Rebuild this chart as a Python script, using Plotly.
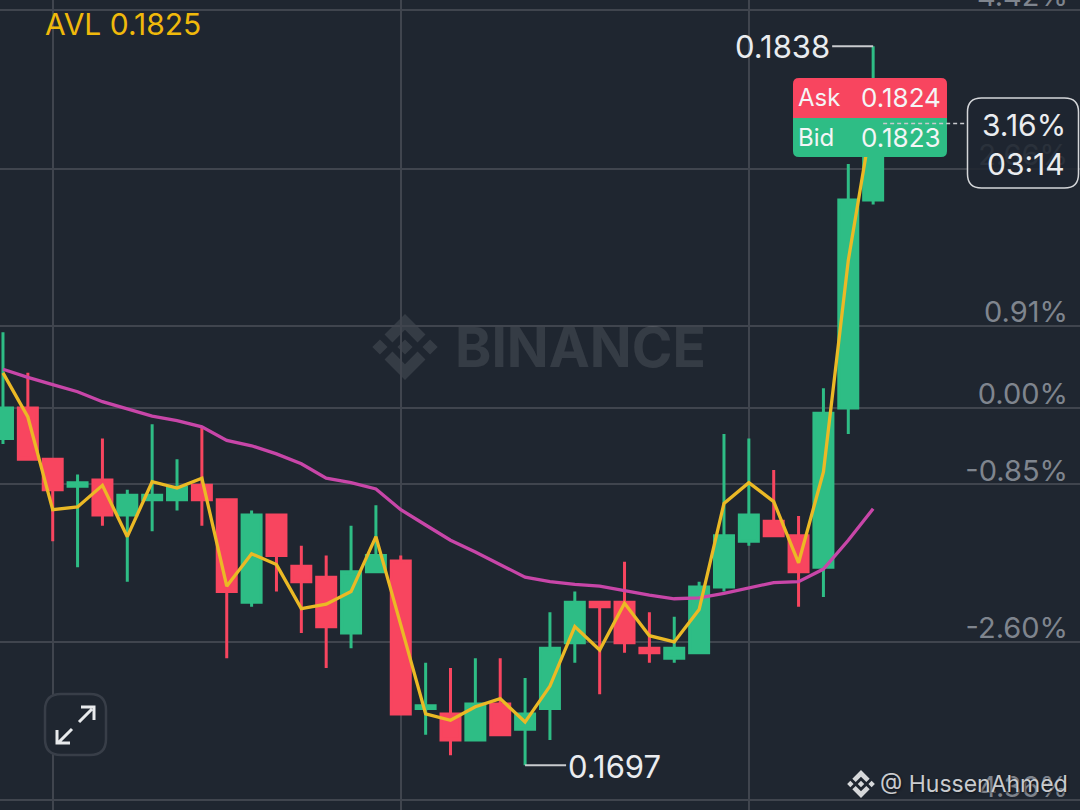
import plotly.graph_objects as go

# percent change values, one entry per candle
opens = [-0.34, 0.00, -0.57, -0.87, -0.80, -1.19, -1.02, -1.02, -0.86, -1.02, -2.16, -1.19,
         -1.76, -1.88, -2.50, -1.82, -1.70, -3.34, -3.40, -3.69, -3.29, -3.57, -3.34, -2.61,
         -2.16, -2.16, -2.67, -2.78, -2.72, -1.99, -1.48, -1.26, -1.42, -1.77, 0.00, 2.31]
highs = [0.84, 0.39, -0.57, -0.74, -0.34, -0.91, -0.18, -0.57, -0.21, -1.02, -1.14, -1.19,
         -1.53, -1.64, -1.31, -1.08, -1.64, -2.83, -2.89, -2.78, -2.78, -3.00, -2.27, -2.04,
         -2.16, -1.71, -2.27, -2.32, -1.93, -0.29, -0.34, -0.69, -1.20, 0.22, 2.71, 4.02]
lows = [-0.40, -0.57, -1.48, -1.77, -1.31, -1.93, -1.37, -1.14, -1.31, -2.78, -2.21, -2.04,
        -2.50, -2.89, -2.67, -1.82, -3.40, -3.63, -3.86, -3.69, -3.63, -3.97, -3.69, -2.83,
        -3.18, -2.72, -2.83, -2.83, -2.72, -2.04, -1.53, -1.42, -2.21, -2.10, -0.29, 2.26]
closes = [0.00, -0.57, -0.91, -0.83, -1.19, -0.97, -0.97, -0.88, -1.02, -2.04, -1.19, -1.64,
          -1.93, -2.43, -1.82, -1.64, -3.40, -3.31, -3.69, -3.29, -3.63, -3.40, -2.67, -2.16,
          -2.21, -2.61, -2.72, -2.67, -1.99, -1.42, -1.19, -1.42, -1.82, -0.06, 2.31, 3.16]
avl = [0.39, -0.10, -1.13, -1.10, -0.86, -1.43, -0.82, -0.89, -0.78, -1.98, -1.62, -1.74,
       -2.23, -2.18, -2.04, -1.43, -2.41, -3.40, -3.47, -3.32, -3.23, -3.49, -3.09, -2.43,
       -2.69, -2.17, -2.53, -2.60, -2.24, -1.06, -0.83, -1.04, -1.72, -0.71, 1.64, 3.28]
ma = [0.43, 0.34, 0.26, 0.18, 0.07, -0.01, -0.09, -0.14, -0.21, -0.36, -0.42, -0.51,
      -0.62, -0.78, -0.83, -0.90, -1.13, -1.30, -1.47, -1.60, -1.74, -1.88, -1.93, -1.96,
      -1.98, -2.03, -2.08, -2.12, -2.11, -2.06, -2.00, -1.94, -1.93, -1.79, -1.47, -1.12]
tick_vals = [4.42, 2.66, 0.91, 0.00, -0.85, -2.60, -4.36]
tick_text = ["4.42%", "2.66%", "0.91%", "0.00%", "-0.85%", "-2.60%", "-4.36%"]
x_grid = [2, 16, 30]

W, H = 1080, 810
BG = "#1f2630"
GREEN = "#2ebd85"
RED = "#f8455f"
FONT = "Inter"
x = list(range(len(opens)))


def px(a, b):
    return f"{a / W:.5f} {1 - b / H:.5f}"


def rounded(x0, y0, x1, y1, r, top=True, bottom=True):
    rt = r if top else 0
    rb = r if bottom else 0
    return (f"M {px(x0 + rt, y0)} L {px(x1 - rt, y0)} Q {px(x1, y0)} {px(x1, y0 + rt)} "
            f"L {px(x1, y1 - rb)} Q {px(x1, y1)} {px(x1 - rb, y1)} "
            f"L {px(x0 + rb, y1)} Q {px(x0, y1)} {px(x0, y1 - rb)} "
            f"L {px(x0, y0 + rt)} Q {px(x0, y0)} {px(x0 + rt, y0)} Z")


def logo(cx, cy, s):
    # binance diamond mark
    def poly(pts):
        return "M " + " L ".join(px(cx + a * s, cy + b * s) for a, b in pts) + " Z"
    def dia(a, b, r):
        return poly([(a, b - r), (a + r, b), (a, b + r), (a - r, b)])
    top = [(0, -1), (0.62, -0.38), (0.38, -0.14), (0, -0.52), (-0.38, -0.14), (-0.62, -0.38)]
    bot = [(a, -b) for a, b in top]
    return " ".join([poly(top), poly(bot), dia(0, 0, 0.23), dia(-0.76, 0, 0.23), dia(0.76, 0, 0.23)])


fig = go.Figure()
fig.add_trace(go.Candlestick(
    x=x, open=opens, high=highs, low=lows, close=closes,
    whiskerwidth=0,
    increasing=dict(line=dict(color=GREEN, width=3), fillcolor=GREEN),
    decreasing=dict(line=dict(color=RED, width=3), fillcolor=RED),
))
fig.add_trace(go.Scatter(x=x, y=ma, mode="lines", line=dict(color="#c846a8", width=3.3)))
fig.add_trace(go.Scatter(x=x, y=avl, mode="lines", line=dict(color="#ebb925", width=3.3)))

shapes = [
    # watermark
    dict(type="path", xref="paper", yref="paper", path=logo(405, 347, 33),
         fillcolor="rgba(255,255,255,0.1)", line_width=0, layer="below"),
    # high / low leader lines
    dict(type="line", xsizemode="pixel", xanchor=35, yref="y", x0=-41, x1=0,
         y0=highs[35], y1=highs[35], line=dict(color="#c9cbce", width=2)),
    dict(type="line", xsizemode="pixel", xanchor=21, yref="y", x0=0, x1=41,
         y0=lows[21], y1=lows[21], line=dict(color="#c9cbce", width=2)),
    # ask / bid box
    dict(type="path", xref="paper", yref="paper", path=rounded(793, 78, 947, 118, 6, bottom=False),
         fillcolor=RED, line_width=0),
    dict(type="path", xref="paper", yref="paper", path=rounded(793, 118, 947, 157, 6, top=False),
         fillcolor=GREEN, line_width=0),
    # last price line and countdown box
    dict(type="line", xsizemode="pixel", xanchor=35, yref="y", x0=10, x1=94,
         y0=closes[35], y1=closes[35], line=dict(color="#c9cbce", width=1.5, dash="4px,3px")),
    dict(type="path", xref="paper", yref="paper", path=rounded(967.5, 98, 1078.5, 188, 14),
         fillcolor="rgba(31,38,48,0.88)", line=dict(color="#d4d6d9", width=1.5)),
    # expand button
    dict(type="path", xref="paper", yref="paper", path=rounded(45, 694, 106, 755, 16),
         fillcolor=BG, line=dict(color="#383e48", width=2.5)),
    dict(type="path", xref="paper", yref="paper",
         path=f"M {px(79, 722)} L {px(92, 709)} M {px(81, 707)} L {px(94, 707)} L {px(94, 720)}",
         line=dict(color="#e8eaec", width=3)),
    dict(type="path", xref="paper", yref="paper",
         path=f"M {px(72, 729)} L {px(59, 742)} M {px(57, 730)} L {px(57, 743)} L {px(70, 743)}",
         line=dict(color="#e8eaec", width=3)),
    # author mark
    dict(type="path", xref="paper", yref="paper", path=logo(861, 784, 14),
         fillcolor="#d6d8da", line_width=0),
]


def label(text, xp, yp, size=30, color="#eaecef", anchor="center", **kw):
    return dict(text=text, xref="paper", yref="paper", x=xp / W, y=1 - yp / H,
                xanchor=anchor, yanchor="middle", showarrow=False,
                font=dict(family=FONT, size=size, color=color, **kw))


annotations = [
    label("AVL 0.1825", 43, 24, size=30, color="#f0b90b", anchor="left"),
    label("0.1838", 782, 47, size=31),
    label("0.1697", 614, 766, size=31),
    label("Ask", 796, 97, size=24, color="#f4f5f6", anchor="left"),
    label("0.1824", 943, 97, size=26, color="#f4f5f6", anchor="right"),
    label("Bid", 796, 137, size=24, color="#f4f5f6", anchor="left"),
    label("0.1823", 943, 137, size=26, color="#f4f5f6", anchor="right"),
    label("3.16%", 1024, 125),
    label("03:14", 1026, 164),
    label("BINANCE", 580, 347, size=55, color="rgba(255,255,255,0.1)", weight=700),
    label("@ HussenAhmed", 878, 784, size=23, color="#c9cbce", anchor="left",
          shadow="1px 1px 2px #10141a"),
]

fig.update_layout(
    width=W, height=H,
    margin=dict(l=0, r=0, t=0, b=0),
    paper_bgcolor=BG, plot_bgcolor=BG,
    showlegend=False, boxgap=0.236, boxgroupgap=0,
    shapes=shapes, annotations=annotations,
    xaxis=dict(range=[-0.12, 43.32], rangeslider_visible=False, tickvals=x_grid,
               showticklabels=False, showgrid=True, gridcolor="#40454e", gridwidth=2,
               zeroline=False, ticks="", automargin=False),
    yaxis=dict(range=[-4.467, 4.533], side="right", tickvals=tick_vals, ticktext=tick_text,
               ticklabelposition="inside", ticklabelstandoff=9, ticklabelshift=-14,
               ticklabeloverflow="allow", ticks="", automargin=False,
               tickfont=dict(family=FONT, size=29, color="#7f858e"),
               showgrid=True, gridcolor="#40454e", gridwidth=2, zeroline=False),
)

# the browser's default body margin would shift the chart by 8px
fig.write_html("out.html", config={"displayModeBar": False},
               post_script="document.body.style.margin='0';")
